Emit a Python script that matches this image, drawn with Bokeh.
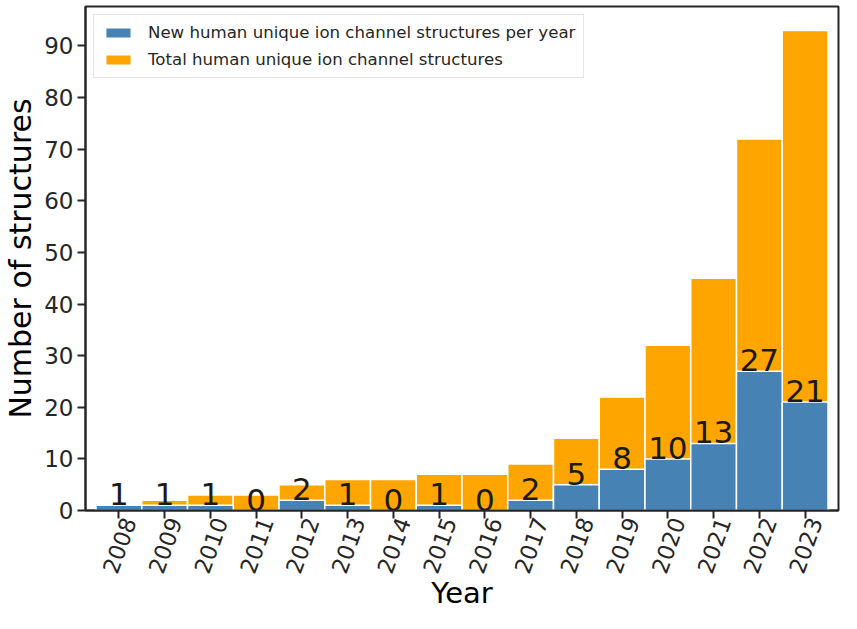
import math
from bokeh.plotting import figure
from bokeh.models import (ColumnDataSource, Range1d, FixedTicker, Legend, LegendItem,
                          LinearAxis, CustomJSTickFormatter)
from bokeh.core.properties import value
from bokeh.embed import file_html
from bokeh.resources import INLINE

years = [2008, 2009, 2010, 2011, 2012, 2013, 2014, 2015, 2016, 2017, 2018, 2019, 2020, 2021, 2022, 2023]
new_per_year = [1, 1, 1, 0, 2, 1, 0, 1, 0, 2, 5, 8, 10, 13, 27, 21]
total = [1, 2, 3, 3, 5, 6, 6, 7, 7, 9, 14, 22, 32, 45, 72, 93]
y_ticks = [0, 10, 20, 30, 40, 50, 60, 70, 80, 90]

BLUE = "#4682B4"
ORANGE = "#FFA500"
INK = "#262626"
FONT = "DejaVu Sans"

X0, X1 = 2007.27, 2023.73
SHIFT = 0.22  # label axis shift so the rotated labels sit centred under their ticks

src = ColumnDataSource(data=dict(
    year=years, new=new_per_year, total=total,
    lab=[str(v) for v in new_per_year],
))

p = figure(width=841, height=613, output_backend="svg", toolbar_location=None,
           x_range=Range1d(X0, X1), y_range=Range1d(0, 97.65),
           x_axis_location=None,
           min_border_left=84, min_border_right=3, min_border_top=6, min_border_bottom=96)
p.extra_x_ranges = {"lab": Range1d(X0 - SHIFT, X1 - SHIFT)}

r_total = p.vbar(x="year", top="total", width=1.0, source=src, fill_color=ORANGE,
                 line_color="white", line_width=1.5)
r_new = p.vbar(x="year", top="new", width=1.0, source=src, fill_color=BLUE,
               line_color="white", line_width=1.5)

p.text(x="year", y="new", text="lab", source=src, text_align="center",
       text_baseline="bottom", text_font=value(FONT), text_font_size="31px",
       text_color="#1a1a1a")

p.xgrid.visible = False
p.ygrid.visible = False
p.outline_line_color = INK
p.outline_line_width = 2
p.background_fill_color = "white"
p.border_fill_color = "white"

# tick-only x axis
xa = LinearAxis(ticker=FixedTicker(ticks=years),
                formatter=CustomJSTickFormatter(code="return ''"))
xa.axis_line_color = INK
xa.axis_line_width = 2
xa.major_tick_line_color = INK
xa.major_tick_line_width = 2
xa.major_tick_out = 8
xa.major_tick_in = 0
xa.minor_tick_line_color = None
xa.major_label_text_font_size = "1px"
xa.major_label_standoff = 0
p.add_layout(xa, "below")

# label x axis (shifted range) carrying the axis title
xl = LinearAxis(x_range_name="lab", ticker=FixedTicker(ticks=years))
xl.axis_line_color = None
xl.major_tick_line_color = None
xl.minor_tick_line_color = None
xl.major_tick_out = 0
xl.major_tick_in = 0
xl.major_label_orientation = math.radians(70)
xl.major_label_standoff = 0
xl.major_label_text_font = FONT
xl.major_label_text_font_size = "22.5px"
xl.major_label_text_color = INK
xl.axis_label = "Year"
xl.axis_label_text_font = FONT
xl.axis_label_text_font_size = "29px"
xl.axis_label_text_font_style = "normal"
xl.axis_label_text_color = "black"
xl.axis_label_standoff = -5
p.add_layout(xl, "below")

ya = p.yaxis[0]
ya.ticker = FixedTicker(ticks=y_ticks)
ya.axis_line_color = INK
ya.axis_line_width = 2
ya.major_tick_line_color = INK
ya.major_tick_line_width = 2
ya.major_tick_out = 8
ya.major_tick_in = 0
ya.minor_tick_line_color = None
ya.major_label_text_font = FONT
ya.major_label_text_font_size = "23px"
ya.major_label_text_color = INK
ya.major_label_standoff = 4
ya.axis_label = "Number of structures"
ya.axis_label_text_font = FONT
ya.axis_label_text_font_size = "30px"
ya.axis_label_text_font_style = "normal"
ya.axis_label_text_color = "black"
ya.axis_label_standoff = 3

legend = Legend(items=[
    LegendItem(label="New human unique ion channel structures per year", renderers=[r_new]),
    LegendItem(label="Total human unique ion channel structures", renderers=[r_total]),
], location="top_left")
legend.margin = 8
legend.padding = 8
legend.spacing = 8
legend.glyph_width = 32
legend.glyph_height = 13
legend.label_standoff = 14
legend.label_text_font = FONT
legend.label_text_font_size = "16.6px"
legend.label_text_color = INK
legend.border_line_color = "#cccccc"
legend.border_line_width = 1
legend.background_fill_color = "white"
legend.background_fill_alpha = 0.8
p.add_layout(legend)

open("out.html", "w").write(file_html(p, INLINE))
